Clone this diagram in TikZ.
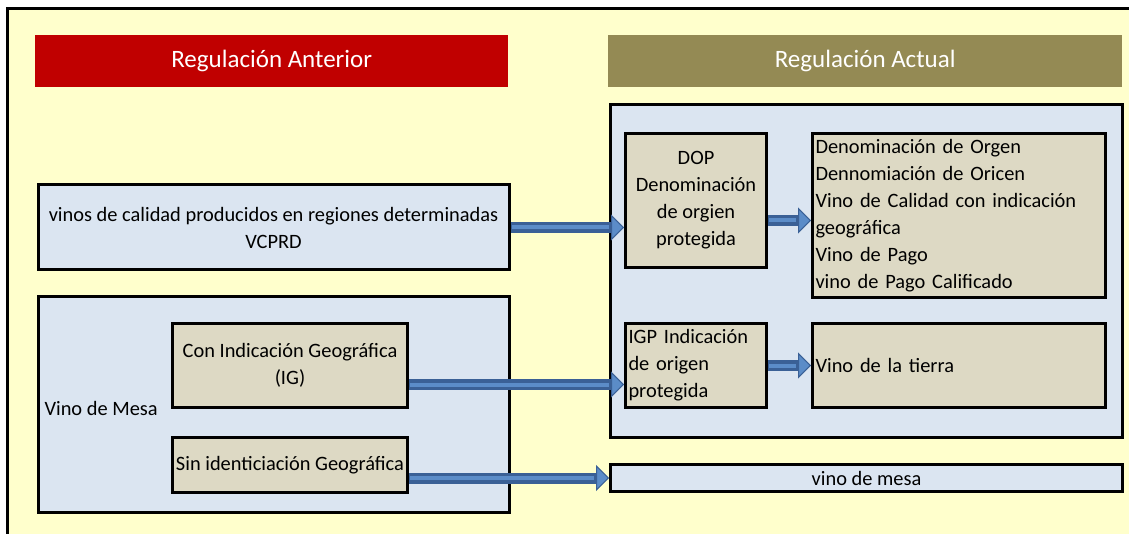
\documentclass[tikz,border=0pt]{standalone}
\usepackage{fontspec}
\setmainfont{Carlito}
\usetikzlibrary{arrows.meta}

\definecolor{paper}{HTML}{FFFFCC}
\definecolor{headred}{HTML}{C00000}
\definecolor{headolive}{HTML}{948A54}
\definecolor{boxblue}{HTML}{DBE5F1}
\definecolor{boxtan}{HTML}{DDD9C4}
\definecolor{arrowdark}{HTML}{3A6096}
\definecolor{arrowlight}{HTML}{5B8CC8}

\begin{document}
\begin{tikzpicture}[x = 1pt, y = -1pt, font = \fontsize{20.4}{27}\selectfont,
    box/.style = {draw, line width = 3pt, anchor = north west, inner sep = 3pt},
    bluebox/.style = {box, fill = boxblue},
    tanbox/.style = {box, fill = boxtan},
    header/.style = {anchor = north west, minimum width = #1, minimum height = 52pt,
        text = white, font = \fontsize{25}{30}\selectfont},
    pipe/.style = {draw = arrowdark, line width = 11pt,
        -{Triangle[length = 13pt, width = 26pt, line width = 1pt, fill = arrowlight]},
        postaction = {draw = arrowlight, line width = 4pt, arrows = -, shorten > = 15pt, shorten < = 1pt}}]
        \useasboundingbox (0,0) rectangle (1129,534);
        \fill [paper] (7.5,8.5) rectangle (1129,534);
        \draw [line width = 2.5pt] (7.5,534) -- (7.5,8.5) -- (1129,8.5);

        \node [header = 473pt, fill = headred] (anterior) at (35,35) {Regulación Anterior};
        \node [header = 514pt, fill = headolive] (actual) at (608,35) {Regulación Actual};

        % regulacion anterior
        \node [bluebox, minimum width = 471pt, minimum height = 85pt, align = center] (vcprd) at (36.5,183.5)
            {vinos de calidad producidos en regiones determinadas\\VCPRD};
        \node [bluebox, minimum width = 471pt, minimum height = 216pt] (mesa) at (36.5,295) {};
        \node [anchor = west] (mesalabel) at (41,408) {Vino de Mesa};
        \node [tanbox, minimum width = 235pt, minimum height = 84pt, align = center] (conig) at (171,322)
            {Con Indicación Geográfica\\(IG)};
        \node [tanbox, minimum width = 235pt, minimum height = 55pt] (sinig) at (171,436)
            {Sin identiciación Geográfica};

        % regulacion actual
        \node [bluebox, minimum width = 512pt, minimum height = 333pt] (actualbox) at (609,103) {};
        \node [tanbox, minimum width = 141pt, minimum height = 134pt, align = center] (dop) at (624,132)
            {DOP\\Denominación\\de orgien\\protegida};
        \node [tanbox, text width = 287pt, minimum height = 164pt, align = left] (dopvinos) at (811,132)
            {Denominación de Orgen\\Dennomiación de Oricen\\Vino de Calidad con indicación\\geográfica\\Vino de Pago\\vino de Pago Calificado};
        \node [tanbox, text width = 135pt, minimum height = 84pt, align = left] (igp) at (624,322)
            {IGP Indicación\\de origen\\protegida};
        \node [tanbox, text width = 287pt, minimum height = 84pt, align = left] (tierra) at (811,322)
            {Vino de la tierra};
        \node [bluebox, minimum width = 512pt, minimum height = 27pt, inner sep = 0pt] (vmesa) at (609,463)
            {vino de mesa};

        \draw [pipe] (vcprd.east) -- (vcprd.east -| dop.west);
        \draw [pipe] ([yshift = -20pt]dop.east) -- ([yshift = -20pt]dop.east -| dopvinos.west);
        \draw [pipe] ([yshift = -19pt]conig.east) -- ([yshift = -19pt]conig.east -| igp.west);
        \draw [pipe] (igp.east) -- (igp.east -| tierra.west);
        \draw [pipe] (sinig.east |- vmesa.west) -- (vmesa.west);
\end{tikzpicture}
\end{document}
